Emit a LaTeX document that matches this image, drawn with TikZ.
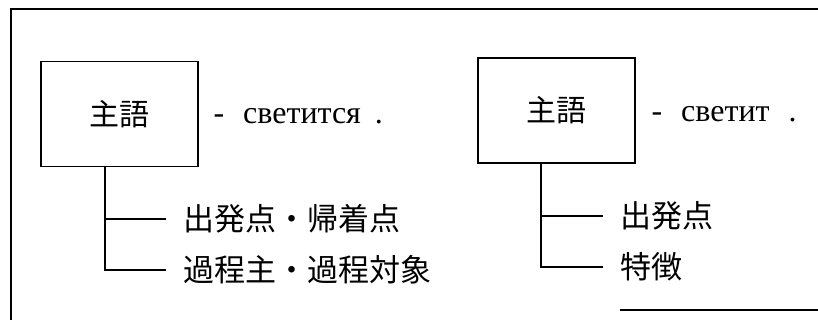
\documentclass[tikz,border=0pt]{standalone}
\usepackage{fontspec}
\setmainfont{Liberation Serif}
\newfontfamily\jp{Noto Sans CJK JP}
\begin{document}
\begin{tikzpicture}[x=1pt,y=-1pt,line width=1.1pt,
  subj/.style={draw,minimum width=157pt,minimum height=105pt,inner sep=0pt,font=\jp\fontsize{30}{32}\selectfont},
  role/.style={anchor=west,inner xsep=17pt,inner ysep=0pt,font=\jp\fontsize{31}{33}\selectfont},
  verb/.style={anchor=base west,inner sep=0pt,font=\fontsize{32}{34}\selectfont}]
\useasboundingbox (0,0) rectangle (818,320);
% frame
\draw (11,320) -- (11,9) -- (818,9);
\draw (620,310) -- (818,310);
% left group
\node[subj] (box1) at (119.5,114) {主語};
\node[verb] (verb1) at (213,124) {-\hspace{19pt}светится\hspace{14pt}.};
\node[role] (r11) at (166,219) {出発点・帰着点};
\node[role] (r12) at (166,270) {過程主・過程対象};
\coordinate (v1) at (105,270);
\draw (box1.south -| v1) -- (v1) -- (r12.west);
\draw (r11.west -| v1) -- (r11.west);
% right group
\node[subj] (box2) at (556.5,110.5) {主語};
\node[verb] (verb2) at (651,122) {-\hspace{19pt}светит\hspace{19pt}.};
\node[role] (r21) at (603,216) {出発点};
\node[role] (r22) at (603,267) {特徴};
\coordinate (v2) at (541,267);
\draw (box2.south -| v2) -- (v2) -- (r22.west);
\draw (r21.west -| v2) -- (r21.west);
\end{tikzpicture}
\end{document}
